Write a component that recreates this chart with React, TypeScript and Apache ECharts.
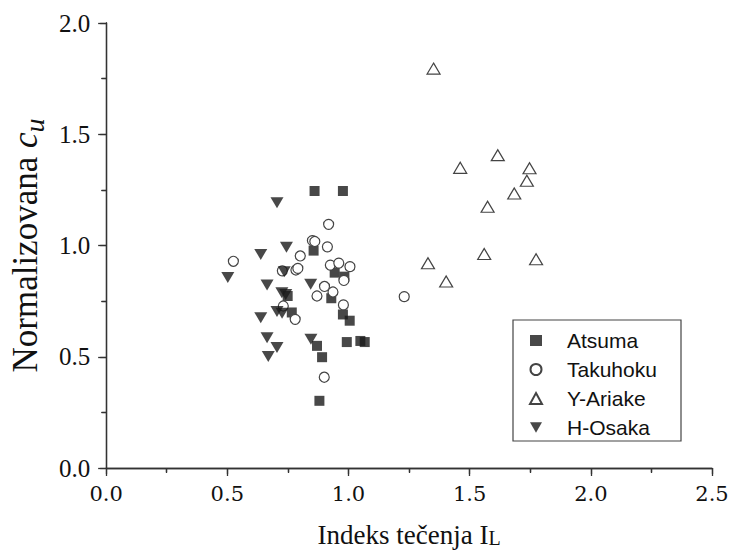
import React, { useEffect, useRef } from "react";
import * as echarts from "echarts";

const atsuma: number[][] = [
  [0.860, 1.245], [0.977, 1.245], [0.856, 0.977], [0.943, 0.878], [0.983, 0.860],
  [0.749, 0.773], [0.929, 0.763], [0.766, 0.699], [0.977, 0.690], [1.005, 0.662],
  [0.870, 0.549], [0.891, 0.498], [0.993, 0.566], [1.049, 0.571], [1.067, 0.566],
  [0.880, 0.302],
];
const takuhoku: number[][] = [
  [0.525, 0.929], [0.918, 1.095], [0.851, 1.022], [0.861, 1.018], [0.913, 0.994],
  [0.801, 0.953], [0.925, 0.912], [0.960, 0.921], [1.006, 0.905], [0.981, 0.843],
  [0.727, 0.886], [0.783, 0.890], [0.791, 0.897], [0.901, 0.816], [0.936, 0.791],
  [0.870, 0.773], [0.731, 0.728], [0.780, 0.668], [0.979, 0.733], [0.900, 0.408],
  [1.230, 0.770],
];
const yAriake: number[][] = [
  [1.351, 1.795], [1.616, 1.406], [1.461, 1.349], [1.747, 1.347], [1.736, 1.291],
  [1.684, 1.234], [1.574, 1.174], [1.560, 0.962], [1.328, 0.920], [1.774, 0.938],
  [1.403, 0.838],
];
const hOsaka: number[][] = [
  [0.705, 1.192], [0.744, 0.992], [0.638, 0.960], [0.502, 0.856], [0.735, 0.882],
  [0.664, 0.823], [0.844, 0.826], [0.725, 0.788], [0.741, 0.780], [0.705, 0.703],
  [0.726, 0.696], [0.638, 0.675], [0.664, 0.585], [0.705, 0.542], [0.669, 0.501],
  [0.845, 0.579],
];
const seriesNames = ["Atsuma", "Takuhoku", "Y-Ariake", "H-Osaka"];
const xTicks = ["0.0", "0.5", "1.0", "1.5", "2.0", "2.5"];
const yTicks = ["0.0", "0.5", "1.0", "1.5", "2.0"];

const SERIF = "Liberation Serif";
const SANS = "Liberation Sans";
const AX = "#333";
const DOWN_TRI = "path://M0,0 L12,0 L6,10.4 Z";

export default function App() {
  const ref = useRef<HTMLDivElement>(null);
  useEffect(() => {
    if (!ref.current) return;
    const chart = echarts.init(ref.current, undefined, { renderer: "svg" });
    const axisCommon = {
      type: "value" as const,
      axisLine: { show: true, lineStyle: { color: AX, width: 1.3 } },
      splitLine: { show: false },
    };
    chart.setOption({
      animation: false,
      backgroundColor: "#fff",
      grid: { left: 106, right: 22, top: 23, bottom: 85 },
      xAxis: [
        {
          ...axisCommon,
          min: 0, max: 2.5, interval: 0.5,
          position: "bottom",
          axisTick: { show: true, inside: false, length: 8, lineStyle: { color: AX, width: 1.3 } },
          minorTick: { show: true, splitNumber: 2, length: 5, lineStyle: { color: AX, width: 1.3 } },
          axisLabel: {
            show: true, margin: 15,
            fontFamily: "DejaVu Serif", fontSize: 21, color: "#111",
            formatter: (v: number) => xTicks[Math.round(v / 0.5)] ?? "",
          },
          name: "{a|Indeks tečenja I}{b|L}",
          nameLocation: "middle",
          nameGap: 52,
          nameTextStyle: {
            rich: {
              a: { fontFamily: SERIF, fontSize: 27, color: "#111", lineHeight: 28, verticalAlign: "bottom" },
              b: { fontFamily: SERIF, fontSize: 20, color: "#111", lineHeight: 22, verticalAlign: "bottom" },
            },
          },
        },
        {
          ...axisCommon,
          min: 0, max: 2.5, interval: 0.5,
          position: "top",
          axisTick: { show: true, inside: true, length: 6, lineStyle: { color: AX, width: 1.3 } },
          minorTick: { show: true, splitNumber: 2, length: 4, lineStyle: { color: AX, width: 1.3 } },
          axisLabel: { show: false },
        },
      ],
      yAxis: [
        {
          ...axisCommon,
          min: 0, max: 2, interval: 0.5,
          position: "left",
          axisTick: { show: true, inside: false, length: 8, lineStyle: { color: AX, width: 1.3 } },
          minorTick: { show: true, splitNumber: 2, length: 5, lineStyle: { color: AX, width: 1.3 } },
          axisLabel: {
            show: true, margin: 16,
            fontFamily: "Liberation Serif, DejaVu Serif, serif", fontSize: 25, color: "#111",
            formatter: (v: number) => yTicks[Math.round(v / 0.5)] ?? "",
          },
          name: "{n|Normalizovana }{c|c}{u|u}",
          nameLocation: "middle",
          nameGap: 57,
          nameTextStyle: {
            rich: {
              n: { fontFamily: SERIF, fontSize: 35, color: "#111", lineHeight: 35, verticalAlign: "top" },
              c: { fontFamily: SERIF, fontSize: 35, fontStyle: "italic", color: "#111", lineHeight: 35, verticalAlign: "top" },
              u: { fontFamily: SERIF, fontSize: 28, fontStyle: "italic", color: "#111", lineHeight: 28, padding: [12, 0, 0, 0], verticalAlign: "top" },
            },
          },
        },
        {
          ...axisCommon,
          min: 0, max: 2, interval: 0.5,
          position: "right",
          axisTick: { show: true, inside: true, length: 6, lineStyle: { color: AX, width: 1.3 } },
          minorTick: { show: true, splitNumber: 2, length: 4, lineStyle: { color: AX, width: 1.3 } },
          axisLabel: { show: false },
        },
      ],
      legend: {
        orient: "vertical",
        left: 529,
        top: 330,
        padding: 0,
        itemGap: 8,
        itemWidth: 12,
        itemHeight: 11,
        data: seriesNames,
        textStyle: { fontFamily: SANS, fontSize: 21, color: "#111", lineHeight: 19, padding: [0, 0, 0, 20] },
      },
      graphic: [
        {
          type: "rect",
          shape: { x: 513, y: 320, width: 168, height: 121 },
          style: { fill: "none", stroke: "#444", lineWidth: 1.2 },
          z: 100,
        },
      ],
      series: [
        {
          name: "Atsuma", type: "scatter", data: atsuma,
          symbol: "rect", symbolSize: 10,
          itemStyle: { color: "#1a1a1a" },
        },
        {
          name: "Takuhoku", type: "scatter", data: takuhoku,
          symbol: "circle", symbolSize: 10,
          itemStyle: { color: "#fff", borderColor: "#444", borderWidth: 1.2, opacity: 1 },
        },
        {
          name: "Y-Ariake", type: "scatter", data: yAriake,
          symbol: "triangle", symbolSize: [13, 11],
          itemStyle: { color: "#fff", borderColor: "#444", borderWidth: 1.2, opacity: 1 },
        },
        {
          name: "H-Osaka", type: "scatter", data: hOsaka,
          symbol: DOWN_TRI, symbolSize: [13, 11],
          itemStyle: { color: "#1a1a1a" },
        },
      ],
    });
    return () => chart.dispose();
  }, []);
  return <div ref={ref} style={{ width: 734, height: 553, position: "absolute", left: 0, top: 0 }} />;
}
